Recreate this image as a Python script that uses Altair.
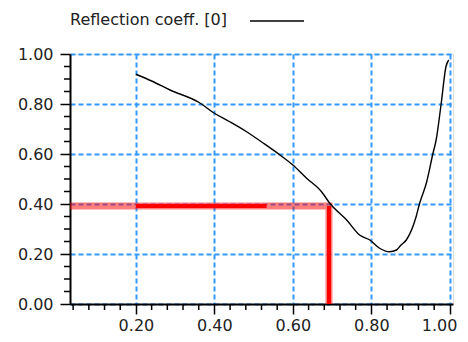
import altair as alt
import pandas as pd

# ---- data ----
curve_x = [0.200, 0.240, 0.287, 0.360, 0.400, 0.439, 0.482, 0.525, 0.567, 0.600,
           0.635, 0.673, 0.694, 0.737, 0.770, 0.796, 0.821, 0.846, 0.864, 0.875,
           0.889, 0.914, 0.923, 0.940, 0.957, 0.965, 0.978, 0.990, 0.997]
curve_y = [0.919, 0.892, 0.856, 0.807, 0.763, 0.729, 0.689, 0.643, 0.596, 0.556,
           0.503, 0.449, 0.403, 0.336, 0.276, 0.256, 0.223, 0.209, 0.216, 0.235,
           0.256, 0.349, 0.403, 0.483, 0.603, 0.656, 0.803, 0.949, 0.976]

x_domain = [0.032, 1.008]
y_domain = [0.0, 1.0]
x_major = [0.2, 0.4, 0.6, 0.8, 1.0]
y_major = [0.0, 0.2, 0.4, 0.6, 0.8, 1.0]
x_minor = [0.04, 0.08, 0.12, 0.16, 0.24, 0.28, 0.32, 0.36, 0.44, 0.48, 0.52, 0.56,
           0.64, 0.68, 0.72, 0.76, 0.84, 0.88, 0.92, 0.96]
y_minor = [0.05, 0.10, 0.15, 0.25, 0.30, 0.35, 0.45, 0.50, 0.55, 0.65, 0.70, 0.75,
           0.85, 0.90, 0.95]

# red marker (read-off point)
marker_x = 0.692
marker_y = 0.392
marker_solid_start = 0.20
marker_solid_end = 0.533

legend_label = "Reflection coeff. [0]"

FONT = "DejaVu Sans"
FS = 16
GRID = "#3399ff"

curve_df = pd.DataFrame({"x": curve_x, "y": curve_y})
halo_df = pd.DataFrame({"x": [x_domain[0], marker_x, marker_x],
                        "y": [marker_y, marker_y, 0.0], "o": [0, 1, 2]})
solid_h = pd.DataFrame({"x": [marker_solid_start], "x2": [marker_solid_end], "y": [marker_y]})
solid_v = pd.DataFrame({"x": [marker_x], "y": [marker_y], "y2": [0.0]})
xminor_df = pd.DataFrame({"x": x_minor})
yminor_df = pd.DataFrame({"y": y_minor})

xs = alt.Scale(domain=x_domain, nice=False, zero=False)
ys = alt.Scale(domain=y_domain, nice=False, zero=False)

x_axis = alt.Axis(values=x_major, format=".2f", title=None, tickSize=10, tickWidth=1.5,
                  tickColor="black", domainColor="black", domainWidth=2,
                  grid=True, gridColor=GRID, gridDash=[5, 3], gridWidth=2,
                  labelFont=FONT, labelFontSize=FS, labelColor="#222",
                  labelPadding=3, labelFlush=5, labelFlushOffset=7)
y_axis = alt.Axis(values=y_major, format=".2f", title=None, tickSize=10, tickWidth=1.5,
                  tickColor="black", domainColor="black", domainWidth=2,
                  grid=True, gridColor=GRID, gridDash=[5, 3], gridWidth=2,
                  labelFont=FONT, labelFontSize=FS, labelColor="#222",
                  labelPadding=7, labelFlush=False)

halo = alt.Chart(halo_df).mark_line(color="red", opacity=0.5, strokeWidth=7).encode(
    x=alt.X("x:Q", scale=xs, axis=x_axis),
    y=alt.Y("y:Q", scale=ys, axis=y_axis),
    order="o:Q",
)
hline = alt.Chart(solid_h).mark_rule(color="red", strokeWidth=4).encode(
    x=alt.X("x:Q", scale=xs), x2="x2:Q", y=alt.Y("y:Q", scale=ys))
vline = alt.Chart(solid_v).mark_rule(color="red", strokeWidth=4).encode(
    x=alt.X("x:Q", scale=xs), y=alt.Y("y:Q", scale=ys), y2="y2:Q")

curve = alt.Chart(curve_df).mark_line(color="black", strokeWidth=1.4,
                                      interpolate="monotone").encode(
    x=alt.X("x:Q", scale=xs), y=alt.Y("y:Q", scale=ys))

xminor = alt.Chart(xminor_df).mark_rule(color="black", strokeWidth=1.5).encode(
    x=alt.X("x:Q", scale=xs), y=alt.value(250), y2=alt.value(256))
yminor = alt.Chart(yminor_df).mark_rule(color="black", strokeWidth=1.5).encode(
    y=alt.Y("y:Q", scale=ys), x=alt.value(0), x2=alt.value(-6))

leg_text = alt.Chart(pd.DataFrame({"t": [legend_label]})).mark_text(
    align="left", baseline="middle", font=FONT, fontSize=FS, color="#222"
).encode(text="t:N", x=alt.value(0), y=alt.value(-34))
leg_line = alt.Chart(pd.DataFrame({"t": [legend_label]})).mark_rule(
    color="black", strokeWidth=1.4
).encode(x=alt.value(180), x2=alt.value(234), y=alt.value(-33))

chart = alt.layer(halo, hline, vline, curve, xminor, yminor, leg_text, leg_line).properties(
    width=383, height=250,
    autosize=alt.AutoSizeParams(type="none"),
    padding={"left": 62, "top": 46, "right": 7, "bottom": 30},
).configure_view(stroke="black", strokeWidth=2).configure(background="white")

chart.save("out.html", embed_options={"renderer": "svg", "actions": False})
